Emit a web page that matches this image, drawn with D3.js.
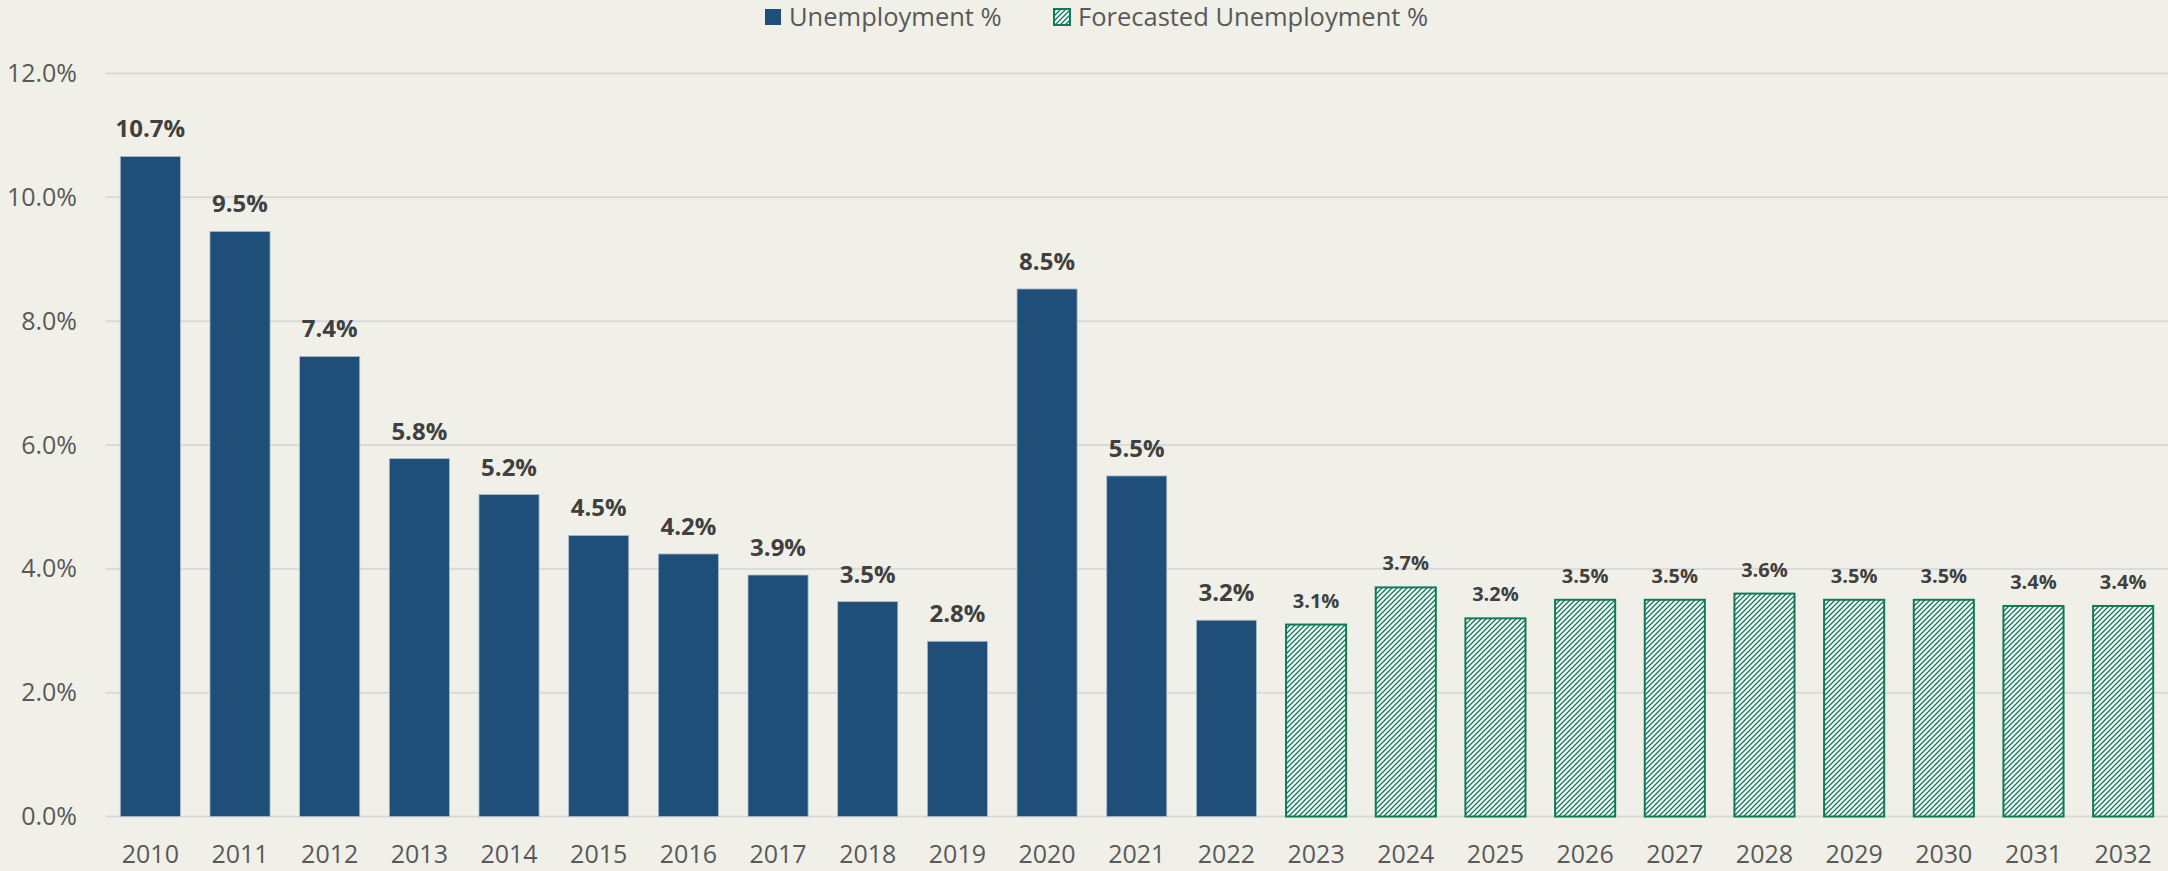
<!DOCTYPE html>
<html>
<head>
<meta charset="utf-8">
<script src="https://cdn.jsdelivr.net/npm/d3@7"></script>
<style>
  html, body { margin: 0; padding: 0; background: #f0f0e8; }
  svg { display: block; font-family: "Open Sans", sans-serif; }
</style>
</head>
<body>
<div id="chart"></div>
<script>
// years and unemployment rates (%)
var years = ["2010", "2011", "2012", "2013", "2014", "2015", "2016", "2017", "2018", "2019",
  "2020", "2021", "2022", "2023", "2024", "2025", "2026", "2027", "2028", "2029", "2030", "2031", "2032"];
var actual = [10.66, 9.45, 7.43, 5.78, 5.2, 4.54, 4.24, 3.9, 3.47, 2.83, 8.52, 5.5, 3.17];
var forecast = [3.1, 3.7, 3.2, 3.5, 3.5, 3.6, 3.5, 3.5, 3.4, 3.4];
var yTicks = [0, 2, 4, 6, 8, 10, 12];

var width = 2168, height = 871;
var margin = { top: 73.5, right: 0, bottom: 54.5, left: 105.5 };

var rows = years.map(function (y, i) {
  var isActual = i < actual.length;
  return {
    year: y,
    value: isActual ? actual[i] : forecast[i - actual.length],
    forecast: !isActual
  };
});

// excel style rounding to one decimal
function pct1(v) {
  return (Math.round(v * 10 + 1e-9) / 10).toFixed(1) + "%";
}

var svg = d3
  .select("#chart")
  .append("svg")
  .attr("width", width)
  .attr("height", height);

svg.append("rect").attr("width", width).attr("height", height).attr("fill", "#f0f0e8");

var defs = svg.append("defs");
var pat = defs
  .append("pattern")
  .attr("id", "hatch")
  .attr("patternUnits", "userSpaceOnUse")
  .attr("width", 5)
  .attr("height", 5);
pat.append("rect").attr("width", 5).attr("height", 5).attr("fill", "#ffffff");
pat
  .append("path")
  .attr("d", "M0,5 L5,0 M-1,1 L1,-1 M4,6 L6,4")
  .attr("stroke", "#0e7a57")
  .attr("stroke-width", 1.35);

var x = d3
  .scaleBand()
  .domain(years)
  .range([margin.left, width - margin.right])
  .paddingInner(0.33)
  .paddingOuter(0.165);

var y = d3
  .scaleLinear()
  .domain([0, 12])
  .range([height - margin.bottom, margin.top]);

// gridlines
svg
  .append("g")
  .selectAll("line")
  .data(yTicks)
  .enter()
  .append("line")
  .attr("x1", margin.left)
  .attr("x2", width - margin.right)
  .attr("y1", function (d) { return y(d); })
  .attr("y2", function (d) { return y(d); })
  .attr("stroke", "#d9d9d9")
  .attr("stroke-width", 2);

// y axis labels
var yAxis = d3
  .axisLeft(y)
  .tickValues(yTicks)
  .tickSize(0)
  .tickPadding(0)
  .tickFormat(function (d) { return d.toFixed(1) + "%"; });

var ya = svg
  .append("g")
  .attr("transform", "translate(77,0)")
  .call(yAxis);
ya.select(".domain").remove();
ya.selectAll("text")
  .attr("fill", "#595959")
  .style("font-size", "25px")
  .style("font-family", "Open Sans");

// x axis labels
var xAxis = d3.axisBottom(x).tickSize(0).tickPadding(0);
var xa = svg
  .append("g")
  .attr("transform", "translate(0," + (height - margin.bottom) + ")")
  .call(xAxis);
xa.select(".domain").remove();
xa.selectAll("text")
  .attr("dy", null)
  .attr("y", 46)
  .attr("fill", "#595959")
  .style("font-size", "25px")
  .style("font-family", "Open Sans");

// bars
svg
  .append("g")
  .selectAll("rect")
  .data(rows)
  .enter()
  .append("rect")
  .attr("x", function (d) { return x(d.year); })
  .attr("width", x.bandwidth())
  .attr("y", function (d) { return y(d.value); })
  .attr("height", function (d) { return y(0) - y(d.value); })
  .attr("fill", function (d) { return d.forecast ? "url(#hatch)" : "#1f4e79"; })
  .attr("stroke", function (d) { return d.forecast ? "#0e7a57" : "#a9bccd"; })
  .attr("stroke-width", function (d) { return d.forecast ? 2 : 0.8; });

// value labels
svg
  .append("g")
  .selectAll("text")
  .data(rows)
  .enter()
  .append("text")
  .attr("x", function (d) { return x(d.year) + x.bandwidth() / 2; })
  .attr("y", function (d) { return y(d.value) - (d.forecast ? 17 : 19); })
  .attr("text-anchor", "middle")
  .attr("fill", "#404040")
  .style("font-weight", "bold")
  .style("font-size", function (d) { return d.forecast ? "20px" : "24px"; })
  .text(function (d) { return pct1(d.value); });

// legend
var legend = svg.append("g").attr("class", "legend");
var items = [
  { label: "Unemployment %", fill: "#1f4e79", stroke: "none", x: 765 },
  { label: "Forecasted Unemployment %", fill: "url(#hatch)", stroke: "#0e7a57", x: 1054 }
];
items.forEach(function (it) {
  legend
    .append("rect")
    .attr("x", it.x)
    .attr("y", 9)
    .attr("width", 16)
    .attr("height", 16)
    .attr("fill", it.fill)
    .attr("stroke", it.stroke)
    .attr("stroke-width", 2);
  legend
    .append("text")
    .attr("x", it.x + 24)
    .attr("y", 26)
    .attr("fill", "#595959")
    .style("font-size", "25.5px")
    .text(it.label);
});
</script>
</body>
</html>
